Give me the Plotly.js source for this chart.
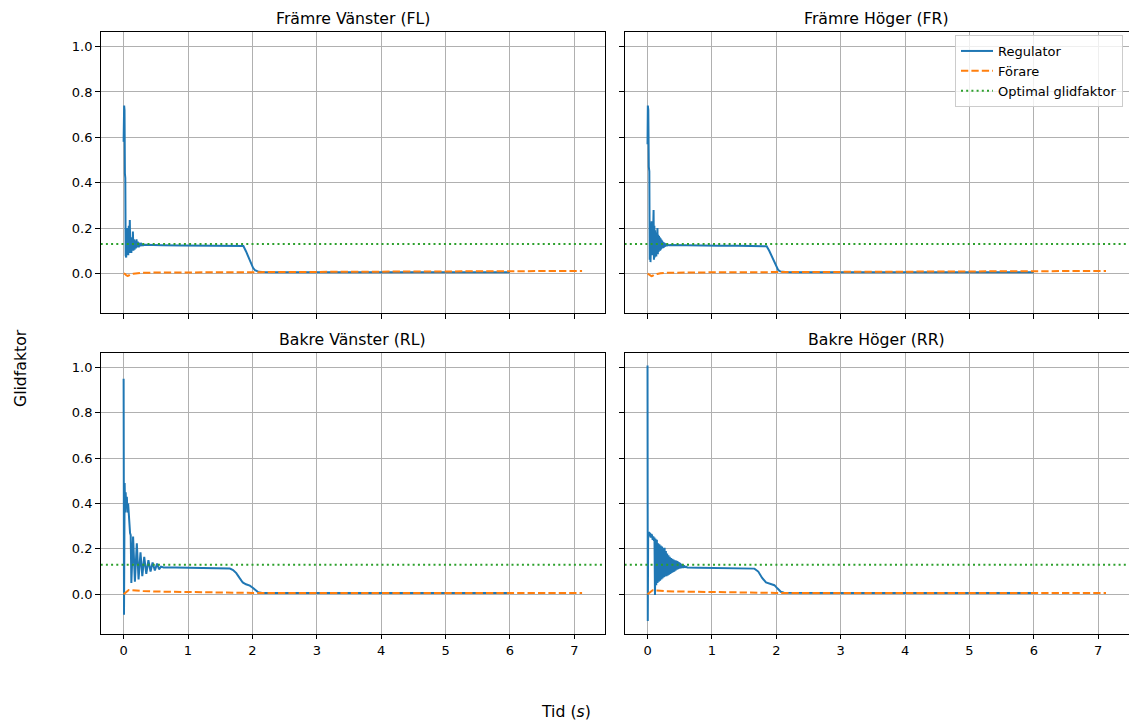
<!DOCTYPE html>
<html><head><meta charset="utf-8">
<script src="https://cdn.plot.ly/plotly-3.0.1.min.js"></script>
<style>html,body{margin:0;padding:0;background:#fff}#chart{width:1129px;height:723px}</style>
</head><body><div id="chart"></div>
<script>
// ---- Data ----
const wheelTitles = ['Främre Vänster (FL)', 'Främre Höger (FR)', 'Bakre Vänster (RL)', 'Bakre Höger (RR)'];
const seriesNames = ['Regulator', 'Förare', 'Optimal glidfaktor'];
const xLabel = 'Tid (<i>s</i>)';
const yLabel = 'Glidfaktor';
const optimalSlip = 0.13;
const xTickVals = [0, 1, 2, 3, 4, 5, 6, 7];
const yTickVals = [0.0, 0.2, 0.4, 0.6, 0.8, 1.0];

// Regulator – FL
const flRegT = [0, 0.008, 0.014, 0.02, 0.026, 0.032, 0.04, 0.048, 0.056, 0.064, 0.072, 0.08, 0.088, 0.096, 0.104, 0.112, 0.12, 0.128, 0.136, 0.144, 0.152, 0.16, 0.17, 0.18, 0.19, 0.2, 0.21, 0.22, 0.235, 0.25, 0.265, 0.28, 0.3, 0.33, 0.4, 0.6, 0.9, 1.2, 1.5, 1.8, 1.86, 1.9, 1.94, 1.98, 2.01, 2.04, 2.07, 2.1, 2.15, 2.3, 3, 4, 5, 6];
const flRegV = [0.58, 0.74, 0.72, 0.44, 0.42, 0.08, 0.07, 0.20, 0.09, 0.17, 0.08, 0.21, 0.10, 0.235, 0.09, 0.16, 0.09, 0.14, 0.10, 0.185, 0.10, 0.15, 0.105, 0.145, 0.11, 0.15, 0.115, 0.14, 0.115, 0.135, 0.12, 0.13, 0.124, 0.126, 0.125, 0.124, 0.123, 0.123, 0.122, 0.121, 0.121, 0.098, 0.071, 0.044, 0.025, 0.014, 0.009, 0.007, 0.006, 0.005, 0.005, 0.005, 0.005, 0.005];
// Regulator – FR
const frRegT = [0, 0.005, 0.012, 0.02, 0.028, 0.034, 0.04, 0.046, 0.052, 0.058, 0.064, 0.07, 0.076, 0.082, 0.088, 0.094, 0.1, 0.106, 0.112, 0.118, 0.124, 0.13, 0.136, 0.142, 0.148, 0.154, 0.16, 0.166, 0.172, 0.178, 0.184, 0.19, 0.196, 0.202, 0.208, 0.214, 0.22, 0.226, 0.232, 0.238, 0.244, 0.25, 0.256, 0.262, 0.268, 0.274, 0.28, 0.29, 0.3, 0.31, 0.33, 0.36, 0.5, 0.8, 1.1, 1.4, 1.7, 1.85, 1.89, 1.93, 1.97, 2.0, 2.03, 2.06, 2.09, 2.14, 2.3, 3, 4, 5, 6];
const frRegV = [0.57, 0.74, 0.72, 0.47, 0.45, 0.06, 0.22, 0.05, 0.20, 0.07, 0.23, 0.08, 0.19, 0.09, 0.20, 0.28, 0.06, 0.21, 0.07, 0.19, 0.08, 0.18, 0.075, 0.17, 0.09, 0.20, 0.085, 0.17, 0.095, 0.165, 0.10, 0.16, 0.10, 0.155, 0.105, 0.15, 0.11, 0.145, 0.11, 0.14, 0.113, 0.137, 0.115, 0.135, 0.117, 0.132, 0.12, 0.13, 0.121, 0.127, 0.124, 0.125, 0.124, 0.123, 0.122, 0.122, 0.121, 0.12, 0.1, 0.074, 0.047, 0.027, 0.015, 0.009, 0.007, 0.006, 0.005, 0.005, 0.005, 0.005, 0.005];
// Regulator – RL
const rlRegT = [0, 0.006, 0.016, 0.024, 0.032, 0.04, 0.05, 0.06, 0.07, 0.08, 0.09, 0.1, 0.11, 0.12, 0.147, 0.175, 0.205, 0.232, 0.262, 0.29, 0.32, 0.352, 0.385, 0.418, 0.45, 0.485, 0.52, 0.55, 0.58, 0.62, 0.8, 1.0, 1.3, 1.55, 1.65, 1.7, 1.75, 1.8, 1.85, 1.9, 1.96, 2.0, 2.05, 2.09, 2.15, 2.3, 3, 4, 5, 6];
const rlRegV = [0.95, -0.09, 0.49, 0.36, 0.45, 0.38, 0.43, 0.36, 0.40, 0.33, 0.28, 0.27, 0.26, 0.05, 0.254, 0.055, 0.225, 0.065, 0.185, 0.08, 0.165, 0.09, 0.15, 0.10, 0.14, 0.105, 0.135, 0.11, 0.122, 0.118, 0.118, 0.117, 0.116, 0.115, 0.113, 0.107, 0.093, 0.072, 0.052, 0.044, 0.038, 0.03, 0.018, 0.009, 0.006, 0.005, 0.005, 0.005, 0.005, 0.005];
// Regulator – RR
const rrRegT = [0, 0.004, 0.01, 0.016, 0.024, 0.032, 0.04, 0.05, 0.06, 0.07, 0.08, 0.09, 0.1, 0.108, 0.116,
  0.125, 0.135, 0.145, 0.155, 0.165, 0.175, 0.185, 0.195, 0.205, 0.215, 0.225, 0.235, 0.245, 0.255, 0.265, 0.275, 0.285, 0.295, 0.305, 0.315, 0.325, 0.335, 0.345, 0.355, 0.365, 0.375, 0.385, 0.395, 0.405, 0.415, 0.425, 0.435, 0.445, 0.455, 0.465, 0.475, 0.485, 0.495, 0.505, 0.515, 0.525, 0.535, 0.545, 0.555, 0.565, 0.575, 0.585, 0.595, 0.605, 0.62,
  0.8, 1.2, 1.6, 1.66, 1.72, 1.78, 1.84, 1.9, 1.97, 2.02, 2.07, 2.12, 2.3, 3, 4, 5, 6];
const rrRegV = [1.008, -0.118, 0.27, 0.255, 0.275, 0.26, 0.27, 0.25, 0.265, 0.26, 0.24, 0.255, 0.235, 0.25, -0.003,
  0.245, 0.04, 0.24, 0.05, 0.225, 0.055, 0.22, 0.06, 0.215, 0.065, 0.21, 0.07, 0.205, 0.075, 0.205, 0.078, 0.19, 0.08, 0.18, 0.083, 0.172, 0.086, 0.165, 0.09, 0.16, 0.094, 0.156, 0.097, 0.153, 0.1, 0.15, 0.104, 0.148, 0.108, 0.146, 0.111, 0.142, 0.113, 0.138, 0.114, 0.134, 0.115, 0.131, 0.116, 0.128, 0.117, 0.124, 0.117, 0.121, 0.118,
  0.117, 0.116, 0.115, 0.113, 0.1, 0.072, 0.052, 0.045, 0.04, 0.025, 0.011, 0.007, 0.006, 0.005, 0.005, 0.005, 0.005];

// Förare (driver)
const drvT = [0, 0.02, 0.04, 0.06, 0.08, 0.1, 0.15, 0.2, 0.3, 0.5, 1, 2, 3, 4, 5, 6, 7.12];
const flDrvV = [0, -0.002, -0.008, -0.011, -0.009, -0.005, -0.001, 0.001, 0.003, 0.004, 0.005, 0.006, 0.007, 0.008, 0.009, 0.01, 0.011];
const frDrvV = [0, -0.003, -0.009, -0.012, -0.01, -0.006, -0.002, 0.001, 0.003, 0.004, 0.005, 0.006, 0.007, 0.008, 0.009, 0.01, 0.011];
const rlDrvV = [0, 0.005, 0.012, 0.017, 0.019, 0.019, 0.017, 0.016, 0.014, 0.012, 0.009, 0.006, 0.005, 0.005, 0.005, 0.005, 0.005];
const rrDrvV = [0, 0.004, 0.01, 0.015, 0.018, 0.018, 0.016, 0.015, 0.013, 0.012, 0.009, 0.006, 0.005, 0.005, 0.005, 0.005, 0.005];

// ---- Build ----
const regT = [flRegT, frRegT, rlRegT, rrRegT];
const regV = [flRegV, frRegV, rlRegV, rrRegV];
const drvV = [flDrvV, frDrvV, rlDrvV, rrDrvV];

const allT = regT.flat().concat(drvT);
const allV = regV.flat().concat(drvV.flat(), [optimalSlip]);
const tMin = Math.min(...allT), tMax = Math.max(...allT);
const vMin = Math.min(...allV), vMax = Math.max(...allV);
const xRange = [tMin - 0.05 * (tMax - tMin), tMax + 0.05 * (tMax - tMin)];
const yRange = [vMin - 0.05 * (vMax - vMin), vMax + 0.05 * (vMax - vMin)];

const W = 1129, H = 723;
const colL = [100.7 / W, 605 / W], colR = [624.6 / W, 1128.9 / W];
const rowT = [(H - 313) / H, (H - 32) / H], rowB = [(H - 633.8) / H, (H - 352.8) / H];

const C0 = '#1f77b4', C1 = '#ff7f0e', C2 = '#2ca02c';
const traces = [];
for (let i = 0; i < 4; i++) {
  const xa = i === 0 ? 'x' : 'x' + (i + 1);
  const ya = i === 0 ? 'y' : 'y' + (i + 1);
  const leg = i === 1;
  traces.push({x: regT[i], y: regV[i], xaxis: xa, yaxis: ya, type: 'scatter', mode: 'lines', name: seriesNames[0],
    line: {color: C0, width: 2}, showlegend: leg, legendgroup: 'a'});
  traces.push({x: drvT, y: drvV[i], xaxis: xa, yaxis: ya, type: 'scatter', mode: 'lines', name: seriesNames[1],
    line: {color: C1, width: 2, dash: '7.3px,3.1px'}, showlegend: leg, legendgroup: 'b'});
  traces.push({x: xRange, y: [optimalSlip, optimalSlip], xaxis: xa, yaxis: ya, type: 'scatter', mode: 'lines', name: seriesNames[2],
    line: {color: C2, width: 2, dash: '2px,3.2px'}, showlegend: leg, legendgroup: 'c'});
}

const font = {family: 'DejaVu Sans', size: 13, color: '#000'};
function xAx(dom, anchor, labels) {
  return {domain: dom, anchor: anchor, range: xRange, tickvals: xTickVals, ticktext: xTickVals.map(String),
    showticklabels: labels, ticks: 'outside', ticklen: 4.6, tickwidth: 1, tickcolor: '#000',
    showline: true, mirror: true, linecolor: '#000', linewidth: 1,
    showgrid: true, gridcolor: '#b0b0b0', gridwidth: 1, zeroline: false, tickfont: font, fixedrange: true};
}
function yAx(dom, anchor, labels) {
  return {domain: dom, anchor: anchor, range: yRange, tickvals: yTickVals, ticktext: yTickVals.map(v => v.toFixed(1)),
    showticklabels: labels, ticks: 'outside', ticklen: 4.6, tickwidth: 1, tickcolor: '#000',
    showline: true, mirror: true, linecolor: '#000', linewidth: 1,
    showgrid: true, gridcolor: '#b0b0b0', gridwidth: 1, zeroline: false, tickfont: font, fixedrange: true};
}

const titleFont = {family: 'DejaVu Sans', size: 15.7, color: '#000'};
const annotations = [
  {text: wheelTitles[0], x: (colL[0] + colL[1]) / 2, y: (H - 18.5) / H},
  {text: wheelTitles[1], x: (colR[0] + colR[1]) / 2, y: (H - 18.5) / H},
  {text: wheelTitles[2], x: (colL[0] + colL[1]) / 2, y: (H - 339.5) / H},
  {text: wheelTitles[3], x: (colR[0] + colR[1]) / 2, y: (H - 339.5) / H},
  {text: xLabel, x: 566 / W, y: (H - 711) / H},
  {text: yLabel, x: 20 / W, y: (H - 368) / H, textangle: -90}
].map(a => Object.assign({xref: 'paper', yref: 'paper', showarrow: false, xanchor: 'center', yanchor: 'middle', font: titleFont}, a));

const layout = {
  width: W, height: H, margin: {l: 0, r: 0, t: 0, b: 0, pad: 0},
  paper_bgcolor: '#fff', plot_bgcolor: '#fff', font: font,
  xaxis: xAx(colL, 'y', false), yaxis: yAx(rowT, 'x', true),
  xaxis2: xAx(colR, 'y2', false), yaxis2: yAx(rowT, 'x2', false),
  xaxis3: xAx(colL, 'y3', true), yaxis3: yAx(rowB, 'x3', true),
  xaxis4: xAx(colR, 'y4', true), yaxis4: yAx(rowB, 'x4', false),
  showlegend: true,
  legend: {x: 1123 / W, y: (H - 35) / H, xanchor: 'right', yanchor: 'top', bgcolor: 'rgba(255,255,255,0.8)',
    bordercolor: '#cccccc', borderwidth: 1, font: font, tracegroupgap: 0, traceorder: 'normal', itemwidth: 32},
  annotations: annotations
};
Plotly.newPlot('chart', traces, layout, {displayModeBar: false, staticPlot: true});
</script></body></html>
